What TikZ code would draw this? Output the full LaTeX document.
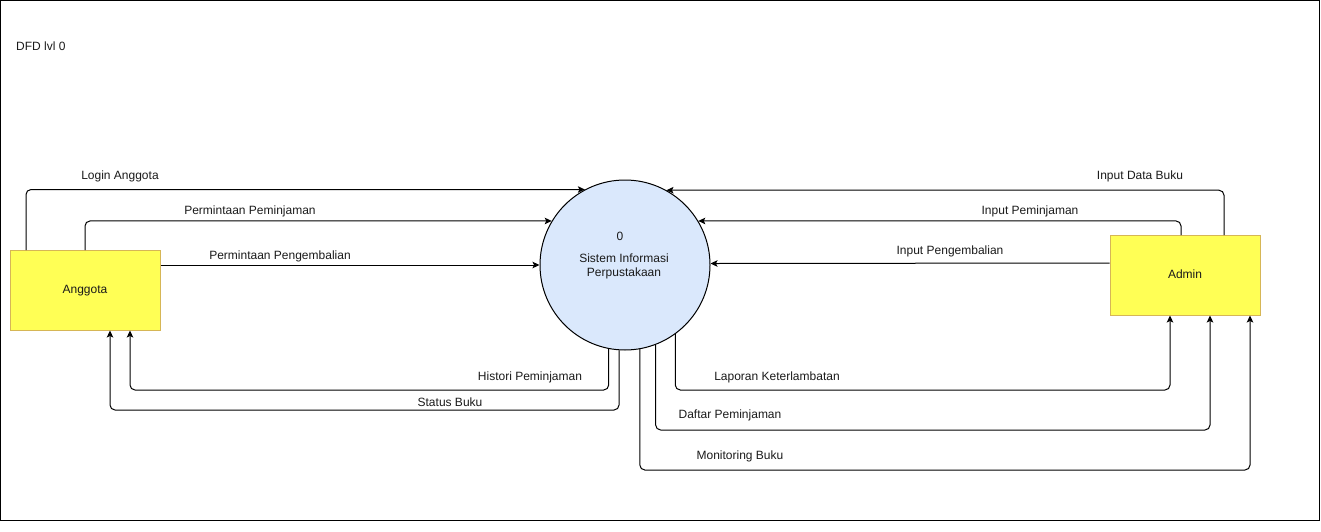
\documentclass[tikz,border=0pt]{standalone}
\usepackage{fontspec}
\setmainfont{Liberation Sans}
\usetikzlibrary{arrows.meta,calc}
\definecolor{boxfill}{HTML}{FFFF55}
\definecolor{boxline}{HTML}{D6B656}
\definecolor{procfill}{HTML}{DAE8FC}
\definecolor{txt}{HTML}{1A1A1A}
\tikzset{
  entity/.style={draw=boxline, fill=boxfill, line width=1pt, minimum width=150pt, minimum height=80pt, inner sep=0pt, text=txt, font=\fontsize{12}{14}\selectfont, text depth=1pt},
  process/.style={draw=black, fill=procfill, line width=1pt, circle, minimum size=170pt, inner sep=0pt},
  flow/.style={draw=black, line width=1pt, rounded corners=5pt, -{Stealth[length=7pt,width=6.5pt,inset=1.5pt]}},
  lbl/.style={text=txt, font=\fontsize{12}{14}\selectfont, inner sep=0pt},
}
\begin{document}
\begin{tikzpicture}[x=1pt,y=-1pt]
\useasboundingbox (0,0) rectangle (1321,532);
\draw[line width=1pt] (0.5,0.5) rectangle (1319.5,520.5);
\node[lbl, anchor=west] (title) at (16,46) {DFD lvl 0};

\node[entity] (anggota) at (85,290) {Anggota};
\node[entity] (admin) at (1185,275) {Admin};
\node[process] (sys) at (625,265) {};
\node[lbl] (syszero) at (620,236) {0};
\node[lbl, align=center] (systext) at (624,266) {Sistem Informasi\\Perpustakaan};

% bend coordinates
\coordinate (c1) at (26,250);
\coordinate (c2) at (85,250);
\coordinate (c4) at (1224,235);
\coordinate (c5) at (1181,235);
\coordinate (b7) at (130,390);
\coordinate (b8) at (110,410);
\coordinate (b9) at (1170,390);
\coordinate (b10) at (1210,430);
\coordinate (b11) at (1250,470);

% inputs from Anggota
\draw[flow] (c1) |- (sys.118.1);
\draw[flow] (c2) |- (sys.149.6);
\draw[flow] (anggota.east |- sys.west) -- (sys.west);
% inputs from Admin
\draw[flow] (c4) |- (sys.61.9);
\draw[flow] (c5) |- (sys.31.2);
\draw[flow] ($(admin.west)+(0,-12)$) -- (sys.1.35);
% outputs to Anggota
\draw[flow] (sys.259.8) |- (b7) -- (b7 |- anggota.south);
\draw[flow] (sys.266.6) |- (b8) -- (b8 |- anggota.south);
% outputs to Admin
\draw[flow] (sys.306) |- (b9) -- (b9 |- admin.south);
\draw[flow] (sys.291.4) |- (b10) -- (b10 |- admin.south);
\draw[flow] (sys.280.8) |- (b11) -- (b11 |- admin.south);

% labels
\node[lbl] (l1) at (120,176) {Login Anggota};
\node[lbl] (l2) at (250,211) {Permintaan Peminjaman};
\node[lbl] (l3) at (280,256) {Permintaan Pengembalian};
\node[lbl] (l4) at (1140,176) {Input Data Buku};
\node[lbl] (l5) at (1030,211) {Input Peminjaman};
\node[lbl] (l6) at (950,251) {Input Pengembalian};
\node[lbl] (l7) at (530,377) {Histori Peminjaman};
\node[lbl] (l8) at (450,402) {Status Buku};
\node[lbl] (l9) at (777,377) {Laporan Keterlambatan};
\node[lbl] (l10) at (730,415) {Daftar Peminjaman};
\node[lbl] (l11) at (740,456) {Monitoring Buku};
\end{tikzpicture}
\end{document}
